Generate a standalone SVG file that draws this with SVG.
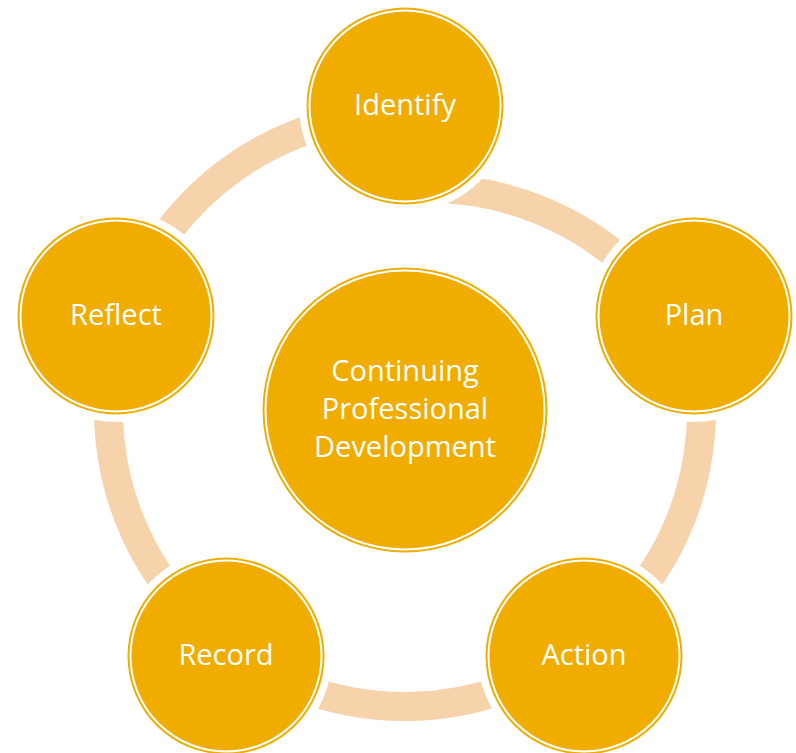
<svg xmlns="http://www.w3.org/2000/svg" width="796" height="753" viewBox="0 0 796 753">
<style>
.fill{fill:#F0AD00}
.inner{fill:none;stroke:#FFFFFF;stroke-width:2}
.lbl{font-family:"Open Sans","Liberation Sans",sans-serif;font-size:29px;fill:#FFFFFF;text-anchor:middle}
.arc{fill:none;stroke:#F7D3AB;stroke-width:29}
</style>
<defs>
<mask id="gaps" maskUnits="userSpaceOnUse" x="0" y="0" width="796" height="753">
<rect x="0" y="0" width="796" height="753" fill="#fff"/>
<circle cx="405" cy="106" r="106" fill="#000"/>
<circle cx="694" cy="316" r="106" fill="#000"/>
<circle cx="584" cy="656" r="106" fill="#000"/>
<circle cx="226" cy="656" r="106" fill="#000"/>
<circle cx="116" cy="316" r="106" fill="#000"/>
</mask>
</defs>
<rect width="796" height="753" fill="#FFFFFF"/>
<g id="connectors" mask="url(#gaps)">
<path class="arc" d="M 687.0 318.4 A 296.5 296.5 0 1 1 405 113.5"/>
<path class="arc" d="M 417.9 188.5 A 296.5 296.5 0 0 1 641.5 278.8"/>
</g>
<g id="center">
<circle class="fill" cx="405" cy="410" r="142.5"/>
<circle class="inner" cx="405" cy="410" r="139.5"/>
<text class="lbl" x="405" y="381">Continuing</text>
<text class="lbl" x="405" y="419">Professional</text>
<text class="lbl" x="405" y="457">Development</text>
</g>
<g id="identify">
<circle class="fill" cx="405" cy="106" r="98.5"/>
<circle class="inner" cx="405" cy="106" r="95.5"/>
<text class="lbl" x="405" y="115">Identify</text>
</g>
<g id="plan">
<circle class="fill" cx="694" cy="316" r="98.5"/>
<circle class="inner" cx="694" cy="316" r="95.5"/>
<text class="lbl" x="694" y="325">Plan</text>
</g>
<g id="action">
<circle class="fill" cx="584" cy="656" r="98.5"/>
<circle class="inner" cx="584" cy="656" r="95.5"/>
<text class="lbl" x="584" y="665">Action</text>
</g>
<g id="record">
<circle class="fill" cx="226" cy="656" r="98.5"/>
<circle class="inner" cx="226" cy="656" r="95.5"/>
<text class="lbl" x="226" y="665">Record</text>
</g>
<g id="reflect">
<circle class="fill" cx="116" cy="316" r="98.5"/>
<circle class="inner" cx="116" cy="316" r="95.5"/>
<text class="lbl" x="116" y="325">Reflect</text>
</g>
</svg>
